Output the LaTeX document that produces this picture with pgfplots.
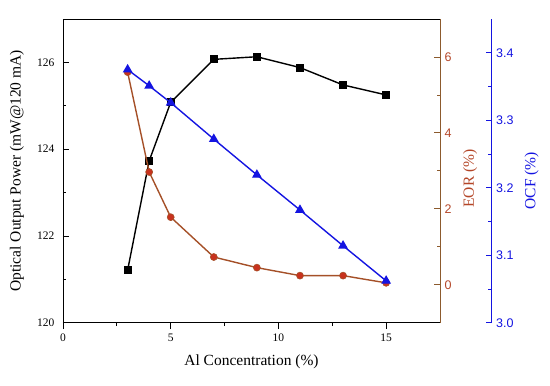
\documentclass[border=0pt]{standalone}
\usepackage{pgfplots}
\pgfplotsset{compat=1.18}
\usepackage{fontspec}
\setmainfont{Liberation Serif}
\newfontfamily\arial{Liberation Sans}
\definecolor{eorline}{RGB}{165,80,40}
\definecolor{eormark}{RGB}{200,50,30}
\definecolor{eortext}{RGB}{180,70,40}
\definecolor{eoraxis}{RGB}{140,90,45}
\definecolor{ocfblue}{RGB}{20,20,225}
\begin{document}
\begin{tikzpicture}
\pgfplotsset{every axis/.append style={scale only axis, height=303.7pt,
  /pgf/number format/assume math mode=true,
  label style={font=\fontsize{15.5}{18}\selectfont}}}
% x axis (ticks outside)
\begin{axis}[width=377pt, xmin=0, xmax=17.5, ymin=120, ymax=127,
  axis x line*=bottom, axis y line=none,
  xtick={0,5,10,15}, minor x tick num=1, tick align=outside,
  major tick length=6.5pt, minor tick length=3.5pt,
  axis line style={black, line width=0.9pt}, tick style={black, line width=0.8pt},
  xticklabel style={font=\fontsize{11.5}{13}\selectfont, yshift=-1pt},
  xlabel={Al Concentration (\%)},
  every axis x label/.append style={at={(axis description cs:0.5,0)}, anchor=center, yshift=-39pt}]
\end{axis}
% main y axis, power
\begin{axis}[width=377pt, xmin=0, xmax=17.5, ymin=120, ymax=127,
  axis y line*=left, axis x line=none,
  ytick={120,122,124,126}, minor y tick num=1, tick align=inside,
  major tick length=6pt, minor tick length=3.5pt,
  axis line style={black, line width=0.9pt}, tick style={black, line width=0.8pt},
  yticklabel style={font=\fontsize{11.5}{13}\selectfont, xshift=-5pt},
  ylabel={Optical Output Power (mW@120 mA)},
  every axis y label/.append style={at={(axis description cs:-0.122,0.5)}, anchor=center}]
\addplot[black, line width=1.4pt, mark=square*, mark size=3.3pt] coordinates {
 (3,121.21) (4,123.73) (5,125.08) (7,126.07) (9,126.13) (11,125.88) (13,125.48) (15,125.25)};
\end{axis}
% EOR axis
\begin{axis}[width=377pt, xmin=0, xmax=17.5, ymin=-1, ymax=7,
  axis y line*=right, axis x line*=top, xtick=\empty,
  ytick={0,2,4,6}, minor y tick num=1, tick align=inside,
  major tick length=6pt, minor tick length=3.5pt,
  x axis line style={black, line width=0.9pt},
  y axis line style={eoraxis, line width=0.9pt},
  tick style={eoraxis, line width=0.8pt},
  yticklabel style={font=\arial\fontsize{12.5}{14}\selectfont, text=eortext, xshift=1pt},
  ylabel={EOR (\%)}, ylabel style={text=eortext},
  every axis y label/.append style={at={(axis description cs:1.08,0.475)}, anchor=center}]
\addplot[eorline, line width=1.4pt, mark=*, mark size=3.5pt, mark options={fill=eormark, draw=eorline, line width=0.6pt}] coordinates {
 (3,5.60) (4,2.97) (5,1.78) (7,0.73) (9,0.45) (11,0.24) (13,0.24) (15,0.05)};
\end{axis}
% OCF axis
\begin{axis}[width=428.7pt, xmin=0, xmax=19.90, ymin=3.0, ymax=3.45,
  axis y line*=right, axis x line=none,
  ytick={3.0,3.1,3.2,3.3,3.4}, minor y tick num=1, tick align=inside,
  major tick length=6pt, minor tick length=3.5pt,
  y axis line style={ocfblue, line width=0.9pt},
  tick style={ocfblue, line width=0.8pt},
  yticklabel style={font=\arial\fontsize{12.5}{14}\selectfont, text=ocfblue, xshift=1pt,
    /pgf/number format/fixed, /pgf/number format/fixed zerofill, /pgf/number format/precision=1},
  ylabel={OCF (\%)}, ylabel style={text=ocfblue},
  every axis y label/.append style={at={(axis description cs:1.093,0.467)}, anchor=center}]
\addplot[ocfblue, line width=1.4pt, mark=triangle*, mark size=4.3pt] coordinates {
 (3,3.375) (4,3.351) (5,3.326) (7,3.272) (9,3.219) (11,3.167) (13,3.114) (15,3.062)};
\end{axis}
\path (-63pt,-63.3pt) rectangle (487pt,322.7pt);
\end{tikzpicture}
\end{document}
